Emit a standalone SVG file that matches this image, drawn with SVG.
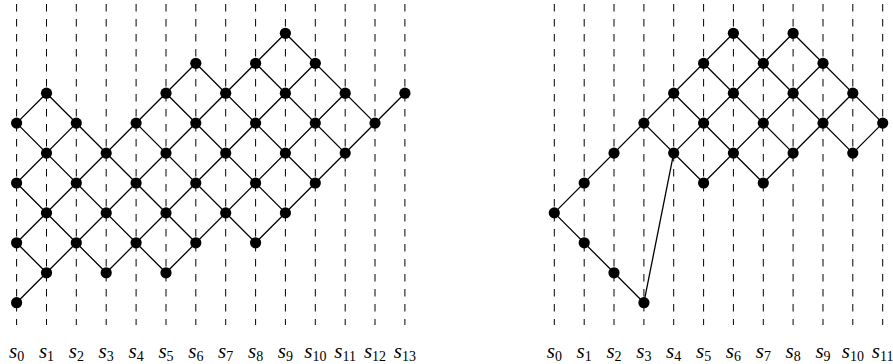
<svg xmlns="http://www.w3.org/2000/svg" width="893" height="364" viewBox="0 0 893 364">
<style>
.grid{stroke:#000;stroke-width:1;stroke-dasharray:7.5 7.5;fill:none}
.edge{stroke:#000;stroke-width:1.3;fill:none;stroke-linecap:round}
.node circle{fill:#000}
.lbl{font-family:"Liberation Serif","DejaVu Serif",serif;font-size:21px;fill:#000;text-anchor:middle}
.lbl .v{font-style:italic}
.lbl .sub{font-size:14px;font-style:normal}
</style>
<g id="gridlines">
<line class="grid" x1="16.6" y1="4" x2="16.6" y2="325"/>
<line class="grid" x1="46.5" y1="4" x2="46.5" y2="325"/>
<line class="grid" x1="76.3" y1="4" x2="76.3" y2="325"/>
<line class="grid" x1="106.2" y1="4" x2="106.2" y2="325"/>
<line class="grid" x1="136.1" y1="4" x2="136.1" y2="325"/>
<line class="grid" x1="166.0" y1="4" x2="166.0" y2="325"/>
<line class="grid" x1="195.8" y1="4" x2="195.8" y2="325"/>
<line class="grid" x1="225.7" y1="4" x2="225.7" y2="325"/>
<line class="grid" x1="255.6" y1="4" x2="255.6" y2="325"/>
<line class="grid" x1="285.4" y1="4" x2="285.4" y2="325"/>
<line class="grid" x1="315.3" y1="4" x2="315.3" y2="325"/>
<line class="grid" x1="345.2" y1="4" x2="345.2" y2="325"/>
<line class="grid" x1="375.0" y1="4" x2="375.0" y2="325"/>
<line class="grid" x1="404.9" y1="4" x2="404.9" y2="325"/>
<line class="grid" x1="554.3" y1="4" x2="554.3" y2="325"/>
<line class="grid" x1="584.2" y1="4" x2="584.2" y2="325"/>
<line class="grid" x1="614.0" y1="4" x2="614.0" y2="325"/>
<line class="grid" x1="643.9" y1="4" x2="643.9" y2="325"/>
<line class="grid" x1="673.7" y1="4" x2="673.7" y2="325"/>
<line class="grid" x1="703.6" y1="4" x2="703.6" y2="325"/>
<line class="grid" x1="733.4" y1="4" x2="733.4" y2="325"/>
<line class="grid" x1="763.3" y1="4" x2="763.3" y2="325"/>
<line class="grid" x1="793.1" y1="4" x2="793.1" y2="325"/>
<line class="grid" x1="823.0" y1="4" x2="823.0" y2="325"/>
<line class="grid" x1="852.8" y1="4" x2="852.8" y2="325"/>
<line class="grid" x1="882.7" y1="4" x2="882.7" y2="325"/>
</g>
<g id="connectors">
<path class="edge" d="M16.6 123.1L46.5 93.2M16.6 183.0L76.3 123.1M16.6 242.8L195.8 63.3M16.6 302.7L285.4 33.3M106.2 272.8L315.3 63.3M166.0 272.8L345.2 93.2M255.6 242.8L404.9 93.2"/>
<path class="edge" d="M16.6 242.8L46.5 272.8M16.6 183.0L106.2 272.8M16.6 123.1L166.0 272.8M46.5 93.2L195.8 242.8M136.1 123.1L255.6 242.8M166.0 93.2L285.4 212.9M195.8 63.3L315.3 183.0M255.6 63.3L345.2 153.1M285.4 33.3L375.0 123.1"/>
<path class="edge" d="M554.3 212.9L733.4 33.3M673.7 153.1L793.1 33.3M703.6 183.0L823.0 63.3M763.3 183.0L852.8 93.2M852.8 153.1L882.7 123.1"/>
<path class="edge" d="M554.3 212.9L643.9 302.7M643.9 123.1L703.6 183.0M673.7 93.2L763.3 183.0M703.6 63.3L793.1 153.1M733.4 33.3L852.8 153.1M793.1 33.3L882.7 123.1"/>
<path class="edge" d="M643.9 302.7L673.7 153.1"/>
</g>
<g id="nodes-left">
<g id="L0_0" class="node"><circle cx="16.6" cy="302.7" r="5.6"/></g>
<g id="L0_2" class="node"><circle cx="16.6" cy="242.8" r="5.6"/></g>
<g id="L0_4" class="node"><circle cx="16.6" cy="183.0" r="5.6"/></g>
<g id="L0_6" class="node"><circle cx="16.6" cy="123.1" r="5.6"/></g>
<g id="L1_1" class="node"><circle cx="46.5" cy="272.8" r="5.6"/></g>
<g id="L1_3" class="node"><circle cx="46.5" cy="212.9" r="5.6"/></g>
<g id="L1_5" class="node"><circle cx="46.5" cy="153.1" r="5.6"/></g>
<g id="L1_7" class="node"><circle cx="46.5" cy="93.2" r="5.6"/></g>
<g id="L2_2" class="node"><circle cx="76.3" cy="242.8" r="5.6"/></g>
<g id="L2_4" class="node"><circle cx="76.3" cy="183.0" r="5.6"/></g>
<g id="L2_6" class="node"><circle cx="76.3" cy="123.1" r="5.6"/></g>
<g id="L3_1" class="node"><circle cx="106.2" cy="272.8" r="5.6"/></g>
<g id="L3_3" class="node"><circle cx="106.2" cy="212.9" r="5.6"/></g>
<g id="L3_5" class="node"><circle cx="106.2" cy="153.1" r="5.6"/></g>
<g id="L4_2" class="node"><circle cx="136.1" cy="242.8" r="5.6"/></g>
<g id="L4_4" class="node"><circle cx="136.1" cy="183.0" r="5.6"/></g>
<g id="L4_6" class="node"><circle cx="136.1" cy="123.1" r="5.6"/></g>
<g id="L5_1" class="node"><circle cx="166.0" cy="272.8" r="5.6"/></g>
<g id="L5_3" class="node"><circle cx="166.0" cy="212.9" r="5.6"/></g>
<g id="L5_5" class="node"><circle cx="166.0" cy="153.1" r="5.6"/></g>
<g id="L5_7" class="node"><circle cx="166.0" cy="93.2" r="5.6"/></g>
<g id="L6_2" class="node"><circle cx="195.8" cy="242.8" r="5.6"/></g>
<g id="L6_4" class="node"><circle cx="195.8" cy="183.0" r="5.6"/></g>
<g id="L6_6" class="node"><circle cx="195.8" cy="123.1" r="5.6"/></g>
<g id="L6_8" class="node"><circle cx="195.8" cy="63.3" r="5.6"/></g>
<g id="L7_3" class="node"><circle cx="225.7" cy="212.9" r="5.6"/></g>
<g id="L7_5" class="node"><circle cx="225.7" cy="153.1" r="5.6"/></g>
<g id="L7_7" class="node"><circle cx="225.7" cy="93.2" r="5.6"/></g>
<g id="L8_2" class="node"><circle cx="255.6" cy="242.8" r="5.6"/></g>
<g id="L8_4" class="node"><circle cx="255.6" cy="183.0" r="5.6"/></g>
<g id="L8_6" class="node"><circle cx="255.6" cy="123.1" r="5.6"/></g>
<g id="L8_8" class="node"><circle cx="255.6" cy="63.3" r="5.6"/></g>
<g id="L9_3" class="node"><circle cx="285.4" cy="212.9" r="5.6"/></g>
<g id="L9_5" class="node"><circle cx="285.4" cy="153.1" r="5.6"/></g>
<g id="L9_7" class="node"><circle cx="285.4" cy="93.2" r="5.6"/></g>
<g id="L9_9" class="node"><circle cx="285.4" cy="33.3" r="5.6"/></g>
<g id="L10_4" class="node"><circle cx="315.3" cy="183.0" r="5.6"/></g>
<g id="L10_6" class="node"><circle cx="315.3" cy="123.1" r="5.6"/></g>
<g id="L10_8" class="node"><circle cx="315.3" cy="63.3" r="5.6"/></g>
<g id="L11_5" class="node"><circle cx="345.2" cy="153.1" r="5.6"/></g>
<g id="L11_7" class="node"><circle cx="345.2" cy="93.2" r="5.6"/></g>
<g id="L12_6" class="node"><circle cx="375.0" cy="123.1" r="5.6"/></g>
<g id="L13_7" class="node"><circle cx="404.9" cy="93.2" r="5.6"/></g>
</g>
<g id="nodes-right">
<g id="R0_3" class="node"><circle cx="554.3" cy="212.9" r="5.6"/></g>
<g id="R1_2" class="node"><circle cx="584.2" cy="242.8" r="5.6"/></g>
<g id="R1_4" class="node"><circle cx="584.2" cy="183.0" r="5.6"/></g>
<g id="R2_1" class="node"><circle cx="614.0" cy="272.8" r="5.6"/></g>
<g id="R2_5" class="node"><circle cx="614.0" cy="153.1" r="5.6"/></g>
<g id="R3_0" class="node"><circle cx="643.9" cy="302.7" r="5.6"/></g>
<g id="R3_6" class="node"><circle cx="643.9" cy="123.1" r="5.6"/></g>
<g id="R4_5" class="node"><circle cx="673.7" cy="153.1" r="5.6"/></g>
<g id="R4_7" class="node"><circle cx="673.7" cy="93.2" r="5.6"/></g>
<g id="R5_4" class="node"><circle cx="703.6" cy="183.0" r="5.6"/></g>
<g id="R5_6" class="node"><circle cx="703.6" cy="123.1" r="5.6"/></g>
<g id="R5_8" class="node"><circle cx="703.6" cy="63.3" r="5.6"/></g>
<g id="R6_5" class="node"><circle cx="733.4" cy="153.1" r="5.6"/></g>
<g id="R6_7" class="node"><circle cx="733.4" cy="93.2" r="5.6"/></g>
<g id="R6_9" class="node"><circle cx="733.4" cy="33.3" r="5.6"/></g>
<g id="R7_4" class="node"><circle cx="763.3" cy="183.0" r="5.6"/></g>
<g id="R7_6" class="node"><circle cx="763.3" cy="123.1" r="5.6"/></g>
<g id="R7_8" class="node"><circle cx="763.3" cy="63.3" r="5.6"/></g>
<g id="R8_5" class="node"><circle cx="793.1" cy="153.1" r="5.6"/></g>
<g id="R8_7" class="node"><circle cx="793.1" cy="93.2" r="5.6"/></g>
<g id="R8_9" class="node"><circle cx="793.1" cy="33.3" r="5.6"/></g>
<g id="R9_6" class="node"><circle cx="823.0" cy="123.1" r="5.6"/></g>
<g id="R9_8" class="node"><circle cx="823.0" cy="63.3" r="5.6"/></g>
<g id="R10_5" class="node"><circle cx="852.8" cy="153.1" r="5.6"/></g>
<g id="R10_7" class="node"><circle cx="852.8" cy="93.2" r="5.6"/></g>
<g id="R11_6" class="node"><circle cx="882.7" cy="123.1" r="5.6"/></g>
</g>
<g id="labels-left">
<text class="lbl" x="16.6" y="358"><tspan class="v">s</tspan><tspan class="sub" dy="2.5">0</tspan></text>
<text class="lbl" x="46.5" y="358"><tspan class="v">s</tspan><tspan class="sub" dy="2.5">1</tspan></text>
<text class="lbl" x="76.3" y="358"><tspan class="v">s</tspan><tspan class="sub" dy="2.5">2</tspan></text>
<text class="lbl" x="106.2" y="358"><tspan class="v">s</tspan><tspan class="sub" dy="2.5">3</tspan></text>
<text class="lbl" x="136.1" y="358"><tspan class="v">s</tspan><tspan class="sub" dy="2.5">4</tspan></text>
<text class="lbl" x="166.0" y="358"><tspan class="v">s</tspan><tspan class="sub" dy="2.5">5</tspan></text>
<text class="lbl" x="195.8" y="358"><tspan class="v">s</tspan><tspan class="sub" dy="2.5">6</tspan></text>
<text class="lbl" x="225.7" y="358"><tspan class="v">s</tspan><tspan class="sub" dy="2.5">7</tspan></text>
<text class="lbl" x="255.6" y="358"><tspan class="v">s</tspan><tspan class="sub" dy="2.5">8</tspan></text>
<text class="lbl" x="285.4" y="358"><tspan class="v">s</tspan><tspan class="sub" dy="2.5">9</tspan></text>
<text class="lbl" x="315.3" y="358"><tspan class="v">s</tspan><tspan class="sub" dy="2.5">10</tspan></text>
<text class="lbl" x="345.2" y="358"><tspan class="v">s</tspan><tspan class="sub" dy="2.5">11</tspan></text>
<text class="lbl" x="375.0" y="358"><tspan class="v">s</tspan><tspan class="sub" dy="2.5">12</tspan></text>
<text class="lbl" x="404.9" y="358"><tspan class="v">s</tspan><tspan class="sub" dy="2.5">13</tspan></text>
</g>
<g id="labels-right">
<text class="lbl" x="554.3" y="358"><tspan class="v">s</tspan><tspan class="sub" dy="2.5">0</tspan></text>
<text class="lbl" x="584.2" y="358"><tspan class="v">s</tspan><tspan class="sub" dy="2.5">1</tspan></text>
<text class="lbl" x="614.0" y="358"><tspan class="v">s</tspan><tspan class="sub" dy="2.5">2</tspan></text>
<text class="lbl" x="643.9" y="358"><tspan class="v">s</tspan><tspan class="sub" dy="2.5">3</tspan></text>
<text class="lbl" x="673.7" y="358"><tspan class="v">s</tspan><tspan class="sub" dy="2.5">4</tspan></text>
<text class="lbl" x="703.6" y="358"><tspan class="v">s</tspan><tspan class="sub" dy="2.5">5</tspan></text>
<text class="lbl" x="733.4" y="358"><tspan class="v">s</tspan><tspan class="sub" dy="2.5">6</tspan></text>
<text class="lbl" x="763.3" y="358"><tspan class="v">s</tspan><tspan class="sub" dy="2.5">7</tspan></text>
<text class="lbl" x="793.1" y="358"><tspan class="v">s</tspan><tspan class="sub" dy="2.5">8</tspan></text>
<text class="lbl" x="823.0" y="358"><tspan class="v">s</tspan><tspan class="sub" dy="2.5">9</tspan></text>
<text class="lbl" x="852.8" y="358"><tspan class="v">s</tspan><tspan class="sub" dy="2.5">10</tspan></text>
<text class="lbl" x="882.7" y="358"><tspan class="v">s</tspan><tspan class="sub" dy="2.5">11</tspan></text>
</g>
</svg>
